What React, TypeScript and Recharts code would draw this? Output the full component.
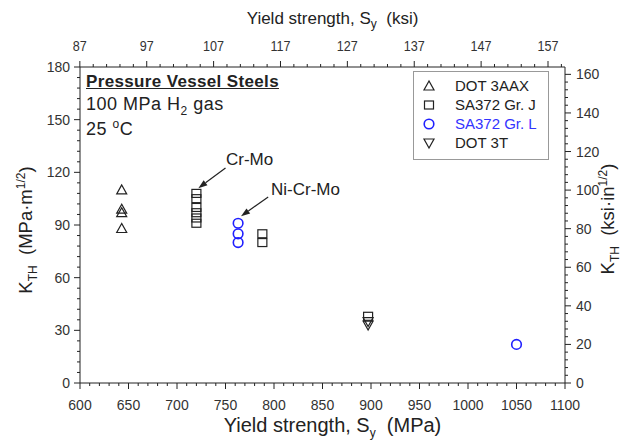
import React from 'react';
import { ScatterChart, Scatter, XAxis, YAxis, ReferenceLine } from 'recharts';

// ---- data (MPa, MPa·m^1/2) ----
const dot3aax = [
  { x: 643, y: 110 },
  { x: 643, y: 99 },
  { x: 643, y: 97 },
  { x: 643, y: 88 },
];
const sa372J = [
  { x: 720, y: 108 },
  { x: 720, y: 105 },
  { x: 720, y: 100 },
  { x: 720, y: 97 },
  { x: 720, y: 94 },
  { x: 720, y: 91 },
  { x: 788, y: 85 },
  { x: 788, y: 80 },
  { x: 897, y: 38 },
];
const sa372L = [
  { x: 763, y: 91 },
  { x: 763, y: 85 },
  { x: 763, y: 80 },
  { x: 1050, y: 22 },
];
const dot3t = [
  { x: 897, y: 35 },
  { x: 897, y: 33 },
];

const mpaTicksMajor = [600, 650, 700, 750, 800, 850, 900, 950, 1000, 1050, 1100];
const ksiTicksMajor = [87, 97, 107, 117, 127, 137, 147, 157];
const kLeftMajor = [0, 30, 60, 90, 120, 150, 180];
const kRightMajor = [0, 20, 40, 60, 80, 100, 120, 140, 160];

const MPA_PER_KSI = 6.894757;
const KSI_IN_PER_MPA_M = 1 / 1.0988;

const range = (a: number, b: number, s: number) => {
  const out: number[] = [];
  for (let v = a; v <= b + 1e-9; v += s) out.push(Math.round(v * 1000) / 1000);
  return out;
};
const mpaTicks = range(600, 1100, 10);
const ksiTicks = range(87, 159, 2);
const kLeftTicks = range(0, 180, 6);
const kRightTicks = range(0, 160, 4);

const BLACK = '#222';
const BLUE = '#1f1fff';
const FONT = '"Liberation Sans", Arial, sans-serif';

const Marker = ({ kind, cx, cy, color }: any) => {
  const s = 5;
  if (kind === 'up')
    return <polygon points={`${cx},${cy - s} ${cx - s},${cy + s * 0.8} ${cx + s},${cy + s * 0.8}`} fill="none" stroke={color} strokeWidth={1.2} />;
  if (kind === 'down')
    return <polygon points={`${cx},${cy + s} ${cx - s},${cy - s * 0.8} ${cx + s},${cy - s * 0.8}`} fill="none" stroke={color} strokeWidth={1.2} />;
  if (kind === 'sq')
    return <rect x={cx - 4.5} y={cy - 4} width={9} height={8} fill="none" stroke={color} strokeWidth={1.2} />;
  return <circle cx={cx} cy={cy} r={4.8} fill="none" stroke={color} strokeWidth={1.6} />;
};

const makeTick = (side: string, majors: number[]) => (props: any) => {
  const { x, y, payload } = props;
  const v = payload.value;
  const major = majors.some((m) => Math.abs(m - v) < 1e-6);
  const len = major ? 6 : 3;
  const txt = { fontFamily: FONT, fontSize: 14, fill: '#333' } as any;
  if (side === 'bottom')
    return (
      <g>
        <line x1={x} y1={y} x2={x} y2={y + len} stroke={BLACK} />
        {major && <text x={x} y={y + 27} textAnchor="middle" {...txt}>{v}</text>}
      </g>
    );
  if (side === 'top')
    return (
      <g>
        <line x1={x} y1={y} x2={x} y2={y - len} stroke={BLACK} />
        {major && <text x={x} y={y - 16} textAnchor="middle" {...txt} style={{ transform: 'scaleX(0.9)', transformOrigin: `${x}px ${y}px` }}>{v}</text>}
      </g>
    );
  if (side === 'left')
    return (
      <g>
        <line x1={x} y1={y} x2={x - len} y2={y} stroke={BLACK} />
        {major && <text x={x - 10} y={y + 5} textAnchor="end" {...txt}>{v}</text>}
      </g>
    );
  return (
    <g>
      <line x1={x} y1={y} x2={x + len} y2={y} stroke={BLACK} />
      {major && <text x={x + 11} y={y + 5} textAnchor="start" {...txt}>{v}</text>}
    </g>
  );
};

const Arrow = (props: any) => {
  const { x1, y1, x2, y2 } = props;
  if ([x1, y1, x2, y2].some((v) => v === undefined || isNaN(v))) return null;
  const dx = x2 - x1;
  const dy = y2 - y1;
  const L = Math.sqrt(dx * dx + dy * dy);
  const ux = dx / L;
  const uy = dy / L;
  const h = 9;
  const w = 3.2;
  const bx = x2 - ux * h;
  const by = y2 - uy * h;
  return (
    <g>
      <line x1={x1} y1={y1} x2={bx} y2={by} stroke={BLACK} strokeWidth={1.2} />
      <polygon points={`${x2},${y2} ${bx - uy * w},${by + ux * w} ${bx + uy * w},${by - ux * w}`} fill={BLACK} />
    </g>
  );
};

const legendItems = [
  { kind: 'up', label: 'DOT 3AAX', color: BLACK },
  { kind: 'sq', label: 'SA372 Gr. J', color: BLACK },
  { kind: 'circ', label: 'SA372 Gr. L', color: BLUE },
  { kind: 'down', label: 'DOT 3T', color: BLACK },
];

export default function App() {
  const textStyle: React.CSSProperties = { position: 'absolute', fontFamily: FONT, color: '#222', whiteSpace: 'nowrap', lineHeight: 1 };
  const sub = { fontSize: 12 };
  return (
    <div style={{ position: 'absolute', left: 0, top: 0, width: 625, height: 441, background: '#fff' }}>
      <ScatterChart width={625} height={441} margin={{ top: 0, right: 0, bottom: 0, left: 0 }}>
        <XAxis xAxisId="bottom" orientation="bottom" type="number" dataKey="x" domain={[600, 1100]} ticks={mpaTicks} interval={0}
          height={58} tickSize={0} tickMargin={0} tick={makeTick('bottom', mpaTicksMajor)} stroke={BLACK} allowDataOverflow />
        <XAxis xAxisId="top" orientation="top" type="number" dataKey="x" domain={[600 / MPA_PER_KSI, 1100 / MPA_PER_KSI]} ticks={ksiTicks} interval={0}
          height={67} tickSize={0} tickMargin={0} tick={makeTick('top', ksiTicksMajor)} stroke={BLACK} allowDataOverflow />
        <YAxis yAxisId="left" orientation="left" type="number" dataKey="y" domain={[0, 180]} ticks={kLeftTicks} interval={0}
          width={80} tickSize={0} tickMargin={0} tick={makeTick('left', kLeftMajor)} stroke={BLACK} allowDataOverflow />
        <YAxis yAxisId="right" orientation="right" type="number" dataKey="y" domain={[0, 180 * KSI_IN_PER_MPA_M]} ticks={kRightTicks} interval={0}
          width={60} tickSize={0} tickMargin={0} tick={makeTick('right', kRightMajor)} stroke={BLACK} allowDataOverflow />

        <Scatter xAxisId="top" yAxisId="right" data={[{ x: 120, y: 50 }]} shape={() => <g />} isAnimationActive={false} />

        <ReferenceLine xAxisId="bottom" yAxisId="left" segment={[{ x: 750, y: 122.5 }, { x: 722, y: 111 }]} shape={Arrow} ifOverflow="visible" />
        <ReferenceLine xAxisId="bottom" yAxisId="left" segment={[{ x: 794, y: 106 }, { x: 766, y: 95 }]} shape={Arrow} ifOverflow="visible" />

        <Scatter xAxisId="bottom" yAxisId="left" data={dot3aax} isAnimationActive={false} shape={(p: any) => <Marker kind="up" cx={p.cx} cy={p.cy} color={BLACK} />} />
        <Scatter xAxisId="bottom" yAxisId="left" data={sa372J} isAnimationActive={false} shape={(p: any) => <Marker kind="sq" cx={p.cx} cy={p.cy} color={BLACK} />} />
        <Scatter xAxisId="bottom" yAxisId="left" data={sa372L} isAnimationActive={false} shape={(p: any) => <Marker kind="circ" cx={p.cx} cy={p.cy} color={BLUE} />} />
        <Scatter xAxisId="bottom" yAxisId="left" data={dot3t} isAnimationActive={false} shape={(p: any) => <Marker kind="down" cx={p.cx} cy={p.cy} color={BLACK} />} />
      </ScatterChart>

      {/* axis titles */}
      <div style={{ ...textStyle, left: 0, width: 625, top: 10, textAlign: 'center', fontSize: 17, paddingLeft: 20 }}>
        Yield strength, S<sub style={sub}>y</sub>&nbsp; (ksi)
      </div>
      <div style={{ ...textStyle, left: 0, width: 625, top: 415, textAlign: 'center', fontSize: 20, paddingLeft: 20 }}>
        Yield strength, S<sub style={sub}>y</sub>&nbsp; (MPa)
      </div>
      <div style={{ ...textStyle, left: 27, top: 230, fontSize: 18.5, transform: 'translate(-50%,-50%) rotate(-90deg)' }}>
        K<sub style={sub}>TH</sub>&nbsp; (MPa·m<sup style={sub}>1/2</sup>)
      </div>
      <div style={{ ...textStyle, left: 609, top: 219, fontSize: 18.5, transform: 'translate(-50%,-50%) rotate(-90deg)' }}>
        K<sub style={sub}>TH</sub>&nbsp; (ksi·in<sup style={sub}>1/2</sup>)
      </div>

      {/* annotation box text */}
      <div style={{ ...textStyle, left: 86, top: 73, fontSize: 17, fontWeight: 'bold', textDecoration: 'underline', letterSpacing: 0.35 }}>Pressure Vessel Steels</div>
      <div style={{ ...textStyle, left: 86, top: 95, fontSize: 18, letterSpacing: 0.5 }}>
        100 MPa H<sub style={sub}>2</sub> gas
      </div>
      <div style={{ ...textStyle, left: 86, top: 118, fontSize: 18, letterSpacing: 0.5 }}>
        25 <sup style={sub}>o</sup>C
      </div>
      <div style={{ ...textStyle, left: 226, top: 151, fontSize: 17 }}>Cr-Mo</div>
      <div style={{ ...textStyle, left: 271, top: 181, fontSize: 17 }}>Ni-Cr-Mo</div>

      {/* legend */}
      <div style={{ position: 'absolute', left: 413, top: 71, width: 134, height: 87, border: '1px solid #999', background: '#fff' }}>
        {legendItems.map((it, i) => (
          <div key={it.label} style={{ position: 'absolute', left: 0, top: 5 + i * 19, height: 18, width: 134 }}>
            <svg width={20} height={18} style={{ position: 'absolute', left: 5, top: 0 }}>
              <Marker kind={it.kind} cx={10} cy={9} color={it.color} />
            </svg>
            <div style={{ ...textStyle, left: 41, top: 1, fontSize: 15, color: it.color === BLUE ? '#3333ff' : '#222' }}>{it.label}</div>
          </div>
        ))}
      </div>
    </div>
  );
}
